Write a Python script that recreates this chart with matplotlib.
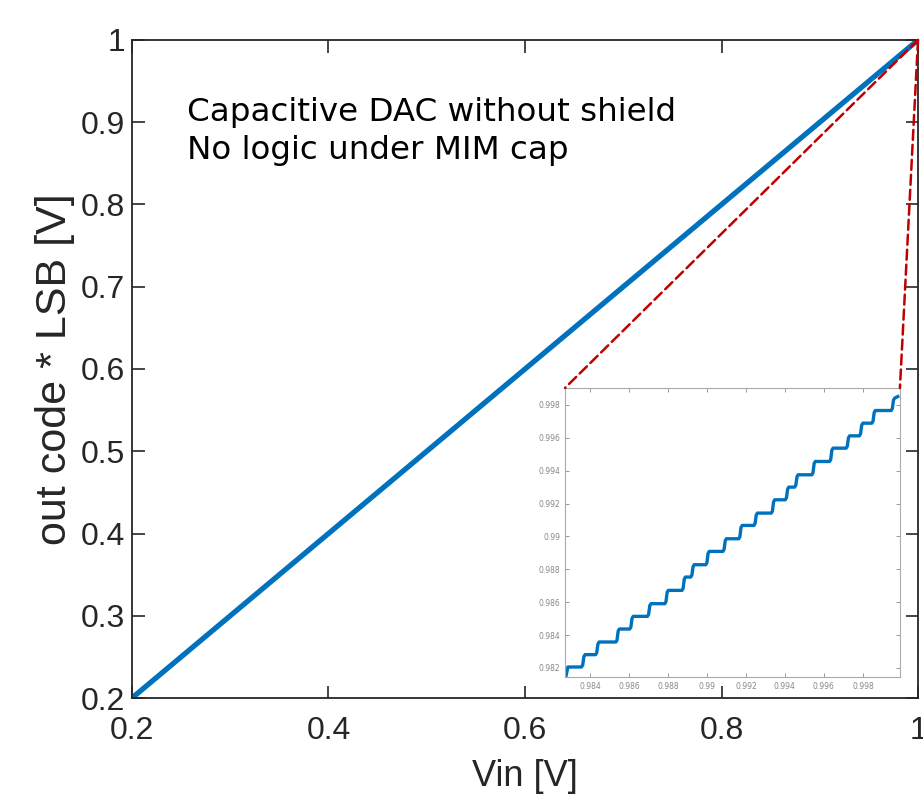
import numpy as np
import matplotlib
matplotlib.use("Agg")
import matplotlib.pyplot as plt
from matplotlib.patches import ConnectionPatch

# main transfer curve (Vin vs out code * LSB)
vin = [0.2, 0.4, 0.6, 0.8, 1.0]
vout = [0.2, 0.4, 0.6, 0.8, 1.0]

# zoomed staircase near full scale: code levels and where the code jumps
step_levels = [0.98206, 0.98281, 0.98358, 0.98437, 0.98514, 0.98591, 0.98672,
               0.98753, 0.98828, 0.98909, 0.98986, 0.99067, 0.99142, 0.99223,
               0.99300, 0.99375, 0.99456, 0.99537, 0.99612, 0.99689, 0.99766,
               0.99841]
step_jumps = [0.98366, 0.98438, 0.98542, 0.98613, 0.98704, 0.98793, 0.98881,
              0.98926, 0.99003, 0.99091, 0.99172, 0.99250, 0.99339, 0.99411,
              0.99459, 0.99547, 0.99638, 0.99723, 0.99791, 0.99855, 0.99954]
stair_start = (0.98277, 0.98149)
stair_end = 0.99979

inset_xticks = [0.984, 0.986, 0.988, 0.99, 0.992, 0.994, 0.996, 0.998]
inset_yticks = [0.982, 0.984, 0.986, 0.988, 0.99, 0.992, 0.994, 0.996, 0.998]

note = "Capacitive DAC without shield\nNo logic under MIM cap"

blue = "#0072BD"
dark = "#262626"

fig = plt.figure(figsize=(9.23, 7.98), dpi=100)
ax = fig.add_axes([0.1430, 0.1253, 0.8516, 0.8246])
ax.plot(vin, vout, color=blue, lw=3.8, solid_capstyle="round")
ax.set_xlim(0.2, 1.0)
ax.set_ylim(0.2, 1.0)
ax.set_xticks([0.2, 0.4, 0.6, 0.8, 1.0])
ax.set_xticklabels(["0.2", "0.4", "0.6", "0.8", "1"])
ax.set_yticks([0.2, 0.3, 0.4, 0.5, 0.6, 0.7, 0.8, 0.9, 1.0])
ax.set_yticklabels(["0.2", "0.3", "0.4", "0.5", "0.6", "0.7", "0.8", "0.9", "1"])
ax.tick_params(direction="in", top=True, right=True, length=9, width=1.2,
               labelsize=23, colors=dark)
ax.tick_params(axis="x", pad=13)
ax.tick_params(axis="y", pad=5)
for lab in ax.get_xticklabels() + ax.get_yticklabels():
    lab.set_family("Liberation Sans")
for sp in ax.spines.values():
    sp.set_linewidth(1.3)
    sp.set_color(dark)
ax.set_xlabel("Vin [V]", fontsize=26, family="Liberation Sans", color=dark, labelpad=9)
ax.set_ylabel("out code * LSB [V]", fontsize=31, family="Liberation Sans", color=dark, labelpad=4)

ax.text(0.070, 0.913, note, transform=ax.transAxes, fontsize=23.4, va="top",
        ha="left", family="DejaVu Sans", linespacing=1.28)

# inset with the staircase
xs = [stair_start[0], stair_start[0] + 0.0001]
ys = [stair_start[1], step_levels[0]]
for i, xj in enumerate(step_jumps):
    xs += [xj - 0.00009, xj - 0.00003, xj + 0.00003, xj + 0.00009]
    ys += [step_levels[i], step_levels[i] + 0.00012,
           step_levels[i + 1] - 0.00012, step_levels[i + 1]]
xs.append(stair_end)
ys.append(step_levels[-1] + 0.0001)

axi = fig.add_axes([0.6121, 0.1516, 0.3629, 0.3622])
axi.plot(xs, ys, color=blue, lw=2.4, solid_joinstyle="round")
axi.set_xlim(0.98272, 0.99990)
axi.set_ylim(0.98145, 0.99903)
axi.set_xticks(inset_xticks)
axi.set_xticklabels(["%g" % t for t in inset_xticks])
axi.set_yticks(inset_yticks)
axi.set_yticklabels(["%g" % t for t in inset_yticks])
axi.tick_params(direction="in", top=True, right=True, length=3, width=0.6,
                labelsize=5.5, colors="#888888")
for sp in axi.spines.values():
    sp.set_linewidth(0.8)
    sp.set_color("#aaaaaa")

# dashed red lines from the full-scale corner to the inset
for corner in [(0, 1), (1, 1)]:
    con = ConnectionPatch(xyA=(1.0, 1.0), coordsA=ax.transData,
                          xyB=corner, coordsB=axi.transAxes,
                          color="#C00000", lw=1.8, linestyle=(0, (4, 2)))
    fig.add_artist(con)

fig.savefig("out.png", dpi=100)
